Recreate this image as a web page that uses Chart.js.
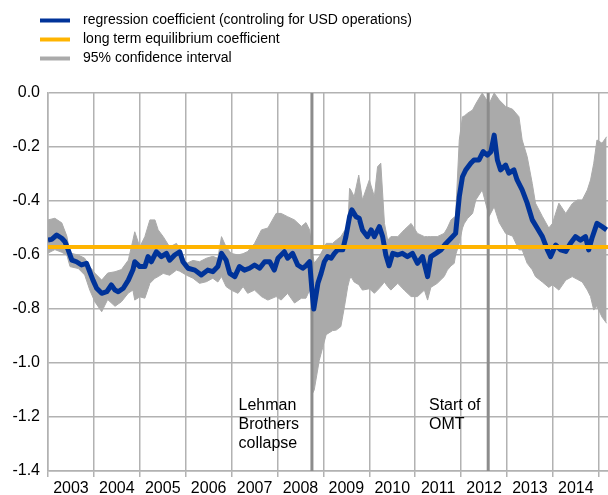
<!DOCTYPE html>
<html><head><meta charset="utf-8">
<script src="https://cdn.jsdelivr.net/npm/chart.js@4.4.0/dist/chart.umd.min.js"></script>
<style>html,body{margin:0;padding:0;background:#fff;}#wrap{width:608px;height:495px;position:relative;}</style>
</head><body><div id="wrap"><canvas id="c" width="608" height="495"></canvas></div>
<script>
// ---- data ----
const coefYears = [2003.00,2003.08,2003.19,2003.30,2003.37,2003.44,2003.52,2003.62,2003.73,2003.84,2003.91,2003.98,2004.06,2004.17,2004.28,2004.38,2004.46,2004.53,2004.64,2004.75,2004.85,2004.89,2005.00,2005.11,2005.18,2005.25,2005.36,2005.47,2005.58,2005.65,2005.76,2005.87,2005.94,2006.05,2006.20,2006.34,2006.48,2006.59,2006.70,2006.78,2006.88,2006.96,2007.07,2007.17,2007.28,2007.39,2007.50,2007.61,2007.72,2007.83,2007.93,2008.01,2008.08,2008.15,2008.22,2008.33,2008.44,2008.55,2008.62,2008.70,2008.75,2008.79,2008.88,2008.95,2009.02,2009.09,2009.17,2009.24,2009.31,2009.42,2009.49,2009.57,2009.62,2009.71,2009.78,2009.85,2009.96,2010.04,2010.11,2010.22,2010.29,2010.36,2010.43,2010.51,2010.62,2010.72,2010.83,2010.94,2011.05,2011.16,2011.27,2011.34,2011.45,2011.56,2011.67,2011.78,2011.88,2011.96,2012.03,2012.10,2012.21,2012.28,2012.39,2012.48,2012.57,2012.65,2012.72,2012.79,2012.86,2012.97,2013.04,2013.15,2013.22,2013.33,2013.44,2013.55,2013.66,2013.77,2013.88,2013.95,2014.06,2014.17,2014.28,2014.38,2014.49,2014.60,2014.71,2014.78,2014.85,2014.96,2015.07,2015.17];
const coefValues = [-0.545,-0.542,-0.526,-0.538,-0.551,-0.581,-0.619,-0.625,-0.637,-0.631,-0.662,-0.693,-0.723,-0.742,-0.736,-0.711,-0.730,-0.736,-0.723,-0.693,-0.655,-0.625,-0.643,-0.643,-0.606,-0.625,-0.588,-0.606,-0.594,-0.619,-0.600,-0.588,-0.625,-0.649,-0.656,-0.674,-0.656,-0.662,-0.643,-0.594,-0.619,-0.668,-0.680,-0.643,-0.656,-0.649,-0.637,-0.649,-0.625,-0.625,-0.656,-0.612,-0.600,-0.588,-0.612,-0.594,-0.637,-0.649,-0.640,-0.625,-0.730,-0.800,-0.705,-0.668,-0.625,-0.606,-0.612,-0.594,-0.581,-0.581,-0.532,-0.458,-0.433,-0.458,-0.464,-0.507,-0.532,-0.507,-0.532,-0.495,-0.532,-0.600,-0.640,-0.594,-0.600,-0.594,-0.606,-0.594,-0.631,-0.606,-0.680,-0.606,-0.594,-0.581,-0.557,-0.538,-0.520,-0.384,-0.310,-0.285,-0.260,-0.248,-0.248,-0.217,-0.230,-0.217,-0.156,-0.248,-0.285,-0.267,-0.297,-0.285,-0.322,-0.359,-0.408,-0.470,-0.501,-0.532,-0.581,-0.606,-0.563,-0.581,-0.587,-0.557,-0.532,-0.545,-0.532,-0.581,-0.538,-0.483,-0.495,-0.507];

const bandYears = [2003.00,2003.15,2003.30,2003.41,2003.48,2003.66,2003.80,2003.91,2004.02,2004.17,2004.30,2004.46,2004.60,2004.75,2004.85,2004.89,2005.00,2005.11,2005.22,2005.33,2005.40,2005.51,2005.65,2005.80,2005.87,2006.02,2006.16,2006.30,2006.45,2006.59,2006.70,2006.78,2006.88,2006.99,2007.14,2007.25,2007.35,2007.50,2007.65,2007.79,2007.97,2008.08,2008.22,2008.37,2008.52,2008.62,2008.70,2008.73,2008.77,2008.80,2008.91,2009.06,2009.20,2009.28,2009.38,2009.46,2009.53,2009.57,2009.60,2009.67,2009.77,2009.85,2010.00,2010.11,2010.18,2010.25,2010.33,2010.40,2010.47,2010.62,2010.76,2010.91,2011.05,2011.20,2011.27,2011.34,2011.48,2011.63,2011.70,2011.78,2011.85,2011.88,2011.96,2012.03,2012.07,2012.14,2012.25,2012.32,2012.46,2012.61,2012.72,2012.83,2012.97,2013.12,2013.26,2013.33,2013.44,2013.55,2013.62,2013.77,2013.91,2013.99,2014.13,2014.28,2014.42,2014.53,2014.64,2014.75,2014.82,2014.89,2014.96,2015.07,2015.17];
const bandUpper = [-0.470,-0.464,-0.481,-0.530,-0.593,-0.600,-0.612,-0.643,-0.667,-0.693,-0.667,-0.662,-0.654,-0.619,-0.545,-0.514,-0.570,-0.532,-0.470,-0.470,-0.507,-0.532,-0.570,-0.557,-0.580,-0.631,-0.620,-0.625,-0.612,-0.605,-0.612,-0.532,-0.570,-0.594,-0.600,-0.595,-0.587,-0.557,-0.507,-0.500,-0.446,-0.446,-0.458,-0.470,-0.494,-0.480,-0.507,-0.550,-0.600,-0.630,-0.606,-0.557,-0.557,-0.545,-0.532,-0.510,-0.507,-0.353,-0.360,-0.384,-0.304,-0.396,-0.322,-0.384,-0.273,-0.260,-0.483,-0.545,-0.532,-0.532,-0.507,-0.483,-0.520,-0.532,-0.532,-0.532,-0.532,-0.520,-0.500,-0.470,-0.460,-0.457,-0.174,-0.088,-0.085,-0.075,-0.063,-0.040,0.000,-0.040,0.000,-0.026,-0.050,-0.060,-0.088,-0.174,-0.236,-0.335,-0.408,-0.457,-0.500,-0.483,-0.408,-0.446,-0.410,-0.396,-0.396,-0.359,-0.322,-0.260,-0.174,-0.186,-0.162];
const bandLower = [-0.593,-0.580,-0.590,-0.600,-0.643,-0.650,-0.674,-0.730,-0.773,-0.810,-0.765,-0.790,-0.773,-0.741,-0.730,-0.767,-0.755,-0.760,-0.705,-0.686,-0.680,-0.668,-0.675,-0.656,-0.660,-0.675,-0.686,-0.705,-0.699,-0.686,-0.700,-0.680,-0.717,-0.730,-0.742,-0.717,-0.742,-0.730,-0.754,-0.767,-0.754,-0.767,-0.742,-0.778,-0.760,-0.760,-0.730,-0.750,-1.110,-1.100,-0.990,-0.895,-0.880,-0.878,-0.865,-0.790,-0.717,-0.690,-0.680,-0.700,-0.710,-0.730,-0.725,-0.742,-0.730,-0.717,-0.700,-0.717,-0.730,-0.705,-0.730,-0.754,-0.754,-0.730,-0.767,-0.720,-0.705,-0.680,-0.656,-0.640,-0.631,-0.600,-0.557,-0.500,-0.483,-0.465,-0.446,-0.396,-0.359,-0.457,-0.421,-0.480,-0.520,-0.530,-0.581,-0.581,-0.631,-0.655,-0.680,-0.700,-0.720,-0.710,-0.730,-0.693,-0.680,-0.690,-0.700,-0.730,-0.754,-0.804,-0.790,-0.830,-0.853];

const equilibriumValue = -0.57;
const eventYears = [2008.75, 2012.59];
const eventLabels = [["Lehman", "Brothers", "collapse"], ["Start of", "OMT"]];
const yearLabels = ["2003","2004","2005","2006","2007","2008","2009","2010","2011","2012","2013","2014"];
const seriesLabels = ["regression coefficient (controling for USD operations)", "long term equilibrium coefficient", "95% confidence interval"];

// ---- styles ----
const BLUE = '#003399', ORANGE = '#FFB400', BAND = '#AAAAAA', GRID = '#B2B2B2', EVENT = '#8C8C8C';
const FONT = '"Liberation Sans", Arial, sans-serif';
const X_MIN = 2003, X_MAX = 2015.2, Y_MIN = -1.4, Y_MAX = 0;

const pts = (xs, ys) => xs.map((x, i) => ({x: x, y: ys[i]}));

const datasets = [
  {label: seriesLabels[1], data: [{x: X_MIN, y: equilibriumValue}, {x: X_MAX, y: equilibriumValue}], borderColor: ORANGE, borderWidth: 4, pointRadius: 0, order: 0, fill: false},
  {label: seriesLabels[0], data: pts(coefYears, coefValues), borderColor: BLUE, borderWidth: 5, pointRadius: 0, order: 1, fill: false, borderJoinStyle: 'round'},
  {label: 'Lehman', data: [{x: eventYears[0], y: Y_MAX}, {x: eventYears[0], y: Y_MIN}], borderColor: EVENT, borderWidth: 3, pointRadius: 0, order: 2, fill: false},
  {label: 'OMT', data: [{x: eventYears[1], y: Y_MAX}, {x: eventYears[1], y: Y_MIN}], borderColor: EVENT, borderWidth: 3, pointRadius: 0, order: 2, fill: false},
  {label: seriesLabels[2], data: pts(bandYears, bandUpper), borderColor: BAND, borderWidth: 1, backgroundColor: BAND, pointRadius: 0, order: 3, fill: '+1'},
  {label: 'lower', data: pts(bandYears, bandLower), borderColor: BAND, borderWidth: 1, pointRadius: 0, order: 4, fill: false}
];

const legendItems = [
  {label: seriesLabels[0], color: BLUE},
  {label: seriesLabels[1], color: ORANGE},
  {label: seriesLabels[2], color: BAND}
];

const legendPlugin = {
  id: 'topLegend',
  afterDraw(chart) {
    const ctx = chart.ctx;
    ctx.save();
    legendItems.forEach((it, i) => {
      const y = 20.5 + i * 19;
      ctx.strokeStyle = it.color; ctx.lineWidth = 4; ctx.lineCap = 'butt';
      ctx.beginPath(); ctx.moveTo(40, y); ctx.lineTo(70, y); ctx.stroke();
      ctx.fillStyle = '#000'; ctx.font = '14px ' + FONT; ctx.textBaseline = 'middle'; ctx.textAlign = 'left';
      ctx.fillText(it.label, 83, y);
    });
    ctx.restore();
  }
};

const annotationPos = [{x: 2007.15, y: -1.156}, {x: 2011.30, y: -1.156}];
const annotationPlugin = {
  id: 'eventText',
  afterDatasetsDraw(chart) {
    const ctx = chart.ctx, xs = chart.scales.x, ys = chart.scales.y;
    ctx.save();
    ctx.fillStyle = '#000'; ctx.font = '16px ' + FONT; ctx.textBaseline = 'middle'; ctx.textAlign = 'left';
    eventLabels.forEach((lines, k) => {
      const px = xs.getPixelForValue(annotationPos[k].x);
      const py = ys.getPixelForValue(annotationPos[k].y);
      lines.forEach((t, j) => ctx.fillText(t, px, py + j * 19));
    });
    ctx.restore();
  }
};

const xTicks = [];
for (let yr = 2003; yr <= 2015; yr++) { xTicks.push(yr); if (yr < 2015) xTicks.push(yr + 0.5); }

new Chart(document.getElementById('c'), {
  type: 'line',
  data: {datasets: datasets},
  options: {
    responsive: false, animation: false, devicePixelRatio: 1,
    layout: {padding: {top: 93, left: 0, right: 0, bottom: 0}},
    plugins: {legend: {display: false}, tooltip: {enabled: false}},
    elements: {line: {tension: 0}},
    scales: {
      x: {
        type: 'linear', min: X_MIN, max: X_MAX,
        afterBuildTicks: (s) => { s.ticks = xTicks.map(v => ({value: v})); },
        afterFit: (s) => { s.height = 24; },
        ticks: {
          autoSkip: false, maxRotation: 0, padding: 2, color: '#000', font: {family: FONT, size: 16},
          callback: (v) => (v % 1 !== 0) ? yearLabels[Math.floor(v) - 2003] : ''
        },
        grid: {
          color: (c) => (c.tick && c.tick.value % 1 === 0) ? GRID : 'rgba(0,0,0,0)',
          tickColor: (c) => (c.tick && c.tick.value % 1 === 0) ? GRID : 'rgba(0,0,0,0)',
          lineWidth: 1.5, tickLength: 6, drawTicks: true
        },
        border: {display: true, color: GRID, width: 1.5}
      },
      y: {
        min: Y_MIN, max: Y_MAX,
        afterFit: (s) => { s.width = 48; },
        ticks: {stepSize: 0.2, padding: 8, color: '#000', font: {family: FONT, size: 16},
          callback: (v) => (Math.abs(v) < 1e-9 ? 0 : v).toFixed(1)},
        grid: {color: GRID, lineWidth: 1.5, drawTicks: false},
        border: {display: true, color: GRID, width: 1.5}
      }
    }
  },
  plugins: [legendPlugin, annotationPlugin]
});
</script>
</body></html>
